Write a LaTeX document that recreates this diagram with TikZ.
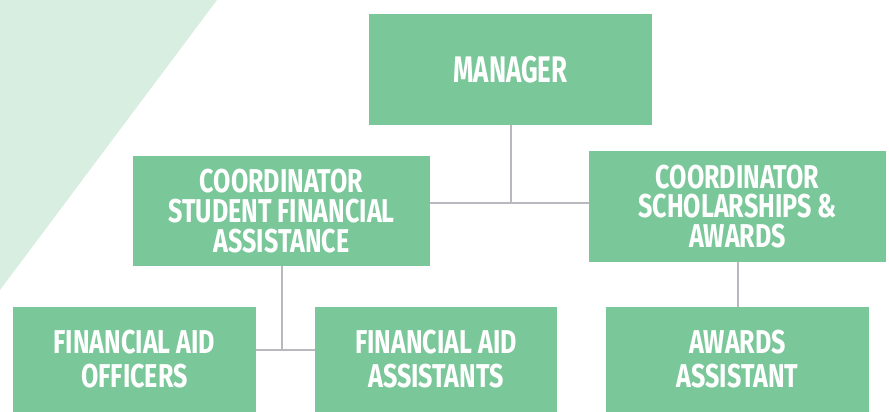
\documentclass[tikz,border=0pt]{standalone}
\usepackage{fontspec}
\usepackage{xcolor}
\usepackage{tikz}
\newfontfamily\boxfont{Fira Sans}[FakeStretch=0.76]
\newfontfamily\topfont{Fira Sans}[FakeStretch=0.70]
\definecolor{boxgreen}{HTML}{7AC799}
\definecolor{palegreen}{HTML}{D7EEE1}
\definecolor{linkgray}{HTML}{B8B8BE}

\begin{document}
\begin{tikzpicture}[x=1pt,y=-1pt,
  box/.style={fill=boxgreen, text=white, inner sep=0pt, align=center,
    font=\boxfont\bfseries\fontsize{33}{29.7}\selectfont},
  twoline/.style={font=\boxfont\bfseries\fontsize{33}{34}\selectfont},
  link/.style={draw=linkgray, line width=2pt}]
  \useasboundingbox (0,0) rectangle (889,412);

\fill[palegreen] (0,0) -- (217,0) -- (0,290) -- cycle;

\node[box, minimum width=283pt, minimum height=111pt,
  font=\topfont\bfseries\fontsize{37}{37}\selectfont] (mgr) at (510.5,69.5) {MANAGER};

\node[box, minimum width=297pt, minimum height=110pt] (sfa) at (281.5,211)
  {COORDINATOR\\STUDENT FINANCIAL\\ASSISTANCE};
\node[box, minimum width=297pt, minimum height=111pt] (sch) at (737.5,206.5)
  {COORDINATOR\\SCHOLARSHIPS \&\\AWARDS};

\node[box, twoline, minimum width=243pt, minimum height=105pt] (off) at (134.5,359.5)
  {FINANCIAL AID\\OFFICERS};
\node[box, twoline, minimum width=242pt, minimum height=105pt] (asst) at (436,359.5)
  {FINANCIAL AID\\ASSISTANTS};
\node[box, twoline, minimum width=263pt, minimum height=105pt] (awd) at (737.5,359.5)
  {AWARDS\\ASSISTANT};

\coordinate (mj) at (511,203);
\coordinate (sj) at (283,350);

\draw[link] (mgr.south) -- (mgr.south |- mj);
\draw[link] (sfa.east |- mj) -- (sch.west |- mj);
\draw[link] (sfa.south) -- (sfa.south |- sj);
\draw[link] (off.east |- sj) -- (asst.west |- sj);
\draw[link] (sch.south) -- (awd.north);
\end{tikzpicture}
\end{document}
